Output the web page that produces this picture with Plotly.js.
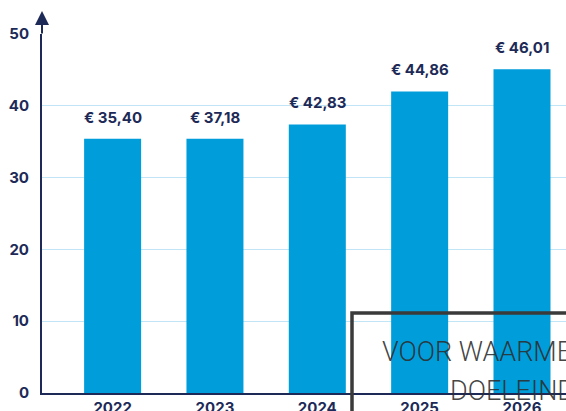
<!DOCTYPE html>
<html>
<head>
<meta charset="utf-8">
<script src="https://cdn.plot.ly/plotly-3.0.1.min.js"></script>
<style>html,body{margin:0;padding:0;background:#fff;}#chart{width:566px;height:411px;}</style>
</head>
<body>
<div id="chart"></div>
<script>
const years = ["2022", "2023", "2024", "2025", "2026"];
const barValues = [35.4, 35.4, 37.4, 42.0, 45.1];
const priceLabels = ["€ 35,40", "€ 37,18", "€ 42,83", "€ 44,86", "€ 46,01"];
const yTicks = [0, 10, 20, 30, 40, 50];
const stampLines = ["VOOR WAARMERKINGS-", "DOELEINDEN"];

const navy = "#1d2a57";
const fontFam = "Inter, 'Noto Sans', sans-serif";

const annotations = years.map((yr, i) => ({
  x: i, y: barValues[i], xref: "x", yref: "y",
  text: priceLabels[i], showarrow: false,
  xanchor: "center", yanchor: "bottom", yshift: 10,
  font: {family: fontFam, size: 15, color: navy}
}));

// y-axis arrow
annotations.push({
  x: 0, xref: "paper", y: 1 + 23 / 359, yref: "paper",
  ax: 0, ay: 24, axref: "pixel", ayref: "pixel",
  text: "", showarrow: true, arrowhead: 2, arrowsize: 1.4, arrowwidth: 2,
  arrowcolor: navy, standoff: 0
});

const stampFont = {family: "Roboto, sans-serif", size: 27, color: "rgba(45,45,45,0.9)", weight: 300};
annotations.push({
  x: (380 - 42) / 524, xref: "paper", y: (393 - 352) / 359, yref: "paper",
  text: stampLines[0], showarrow: false, xanchor: "left", yanchor: "middle",
  font: stampFont
});
annotations.push({
  x: (448 - 42) / 524, xref: "paper", y: (393 - 391) / 359, yref: "paper",
  text: stampLines[1], showarrow: false, xanchor: "left", yanchor: "middle",
  font: stampFont
});

const trace = {
  type: "bar", x: years, y: barValues,
  marker: {color: "#009ddb"}, width: 0.557,
  hoverinfo: "skip"
};

const layout = {
  width: 566, height: 411,
  margin: {l: 42, r: 0, t: 34, b: 18, pad: 0},
  paper_bgcolor: "#ffffff", plot_bgcolor: "#ffffff",
  showlegend: false,
  font: {family: fontFam, weight: 700},
  xaxis: {
    type: "category", range: [-0.69, 4.43],
    showline: true, linecolor: navy, linewidth: 1.5,
    showgrid: false, zeroline: false, ticks: "",
    tickfont: {family: fontFam, size: 15, color: navy, weight: 700},
    ticklabelstandoff: 0
  },
  yaxis: {
    range: [0, 50], tickvals: yTicks, ticktext: yTicks.map(String),
    showline: true, linecolor: navy, linewidth: 2,
    showgrid: true, gridcolor: "#c2e5f5", gridwidth: 1,
    zeroline: false, ticks: "",
    tickfont: {family: fontFam, size: 15, color: navy, weight: 700},
    ticklabelstandoff: 8
  },
  shapes: [{
    type: "rect", xref: "paper", yref: "paper",
    x0: (352 - 42) / 524, x1: 1.2, y0: (393 - 313) / 359, y1: -0.3,
    line: {color: "#3a3a3a", width: 3.5}, fillcolor: "rgba(0,0,0,0)", layer: "above"
  }],
  annotations: annotations
};

Plotly.newPlot("chart", [trace], layout, {displayModeBar: false, staticPlot: true});
</script>
</body>
</html>
